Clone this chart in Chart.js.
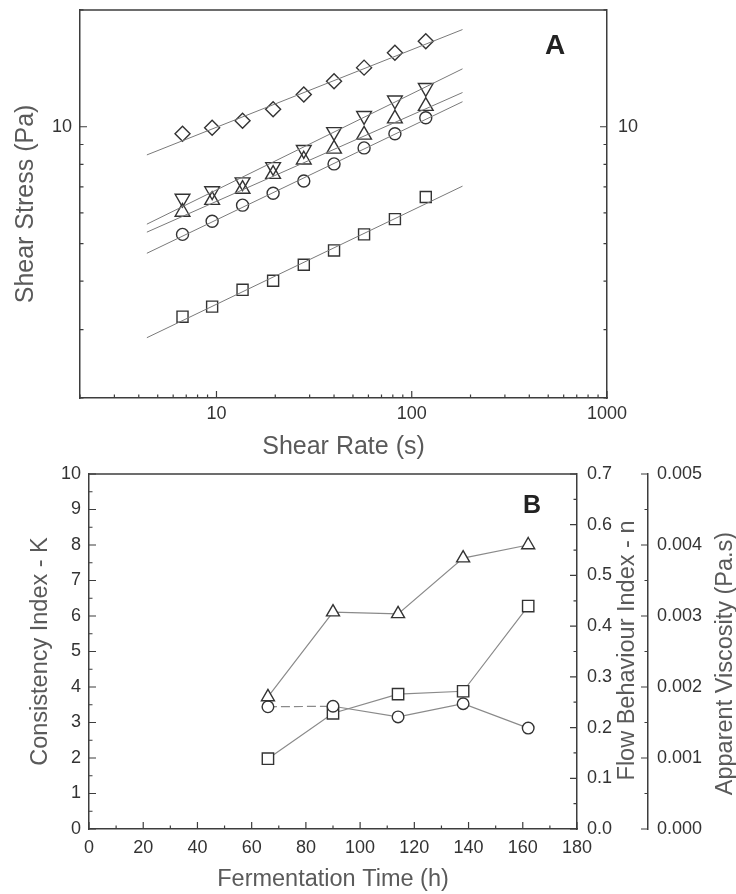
<!DOCTYPE html>
<html lang="en">
<head>
<meta charset="utf-8">
<title>Shear stress and flow parameters</title>
<script src="https://cdn.jsdelivr.net/npm/chart.js"></script>
<style>
  body { margin: 0; background: #fff; }
  #wrap { position: relative; width: 736px; height: 894px; }
  canvas { position: absolute; left: 0; }
  #flow { top: 0; }
  #ferm { top: 440px; }
</style>
</head>
<body>
<div id="wrap">
  <canvas id="flow" width="736" height="462"></canvas>
  <canvas id="ferm" width="736" height="454"></canvas>
</div>
<script>
// ---- A: shear stress vs shear rate (log-log) ----
const shearRate     = [6.7, 9.5, 13.6, 19.5, 28, 40, 57, 82, 118];
const stressDiamond = [9.59, 9.94, 10.36, 11.1, 12.1, 13.1, 14.2, 15.5, 16.6];
const stressDown    = [6.53, 6.83, 7.2, 7.88, 8.72, 9.7, 10.67, 11.7, 12.6];
const stressUp      = [6.03, 6.47, 6.91, 7.55, 8.22, 8.77, 9.53, 10.49, 11.3];
const stressCircle  = [5.28, 5.71, 6.28, 6.74, 7.25, 8.02, 8.82, 9.59, 10.55];
const stressSquare  = [3.24, 3.44, 3.80, 4.01, 4.41, 4.80, 5.28, 5.78, 6.59];

// power law fits, end points of each line
const fitRate    = [4.4, 182];
const fitDiamond = [8.46, 17.8];
const fitDown    = [5.61, 14.1];
const fitUp      = [5.35, 12.25];
const fitCircle  = [4.72, 11.6];
const fitSquare  = [2.86, 7.03];

const rateTicks = [2, 3, 4, 5, 6, 7, 8, 9, 10, 20, 30, 40, 50, 60, 70, 80, 90,
                   100, 200, 300, 400, 500, 600, 700, 800, 900, 1000];
const rateLabels = [10, 100, 1000];
const stressTicks = [2, 3, 4, 5, 6, 7, 8, 9, 10, 20];
const stressLabels = [10];

// ---- B: flow parameters vs fermentation time ----
const fermTime     = [66, 90, 114, 138, 162];
const consistencyK = [3.72, 6.11, 6.06, 7.63, 8.0];
const flowIndexN   = [0.241, 0.242, 0.221, 0.247, 0.199];
const viscosity    = [0.00099, 0.00163, 0.0019, 0.00194, 0.00314];

const ink = '#333';
const frame = '#3d3d3d';
const titleGrey = '#5a5a5a';
Chart.defaults.font.family = "'Liberation Sans', Arial, sans-serif";
Chart.defaults.color = ink;

function pts(xs, ys) { return xs.map((x, i) => ({ x: x, y: ys[i] })); }

// frame top, inward tick marks, panel letter, right-hand titles
function makeDecor(cfg) {
  return {
    id: 'decor',
    afterDraw(chart) {
      const ctx = chart.ctx, a = chart.chartArea;
      ctx.save();
      ctx.strokeStyle = frame;
      ctx.lineWidth = 1.5;
      ctx.beginPath();
      ctx.moveTo(a.left, a.top);
      ctx.lineTo(a.right, a.top);
      ctx.stroke();

      ctx.lineWidth = 1.2;
      ctx.beginPath();
      cfg.tickScales.forEach(id => {
        const s = chart.scales[id];
        const marks = [];
        s.ticks.forEach((t, i) => {
          if (s.type === 'logarithmic') {
            marks.push([t.value, t.label !== '']);
          } else {
            marks.push([t.value, true]);
            if (i < s.ticks.length - 1) marks.push([(t.value + s.ticks[i + 1].value) / 2, false]);
          }
        });
        marks.forEach(([v, major]) => {
          const len = major ? 7 : 3.5;
          const p = s.getPixelForValue(v);
          if (s.isHorizontal()) {
            ctx.moveTo(p, s.top);
            ctx.lineTo(p, s.top - len);
          } else {
            const x0 = s.position === 'left' ? s.right : s.left;
            const dir = s.position === 'left' ? 1 : -1;
            ctx.moveTo(x0, p);
            ctx.lineTo(x0 + dir * len, p);
          }
        });
      });
      ctx.stroke();

      ctx.fillStyle = '#222';
      ctx.textAlign = 'center';
      ctx.textBaseline = 'middle';
      ctx.font = "bold " + cfg.letter.size + "px 'Liberation Sans', Arial, sans-serif";
      ctx.fillText(cfg.letter.text, a.right - cfg.letter.dx, a.top + cfg.letter.dy);

      ctx.fillStyle = titleGrey;
      ctx.font = "23.5px 'Liberation Sans', Arial, sans-serif";
      (cfg.sideTitles || []).forEach(t => {
        const s = chart.scales[t.scale];
        ctx.save();
        ctx.translate(s.right - t.inset, (s.top + s.bottom) / 2 + t.shift);
        ctx.rotate(-Math.PI / 2);
        ctx.fillText(t.text, 0, 0);
        ctx.restore();
      });
      ctx.restore();
    }
  };
}

function markerSet(ys, style, radius, rotation) {
  return {
    data: pts(shearRate, ys),
    showLine: false,
    pointStyle: style,
    pointRadius: radius,
    pointRotation: rotation || 0,
    borderColor: ink,
    pointBorderWidth: 1.4,
    backgroundColor: 'rgba(0,0,0,0)'
  };
}
function fitSet(ys) {
  return {
    data: pts(fitRate, ys),
    showLine: true,
    pointRadius: 0,
    borderColor: '#7a7a7a',
    borderWidth: 1
  };
}

const tickFont = { size: 18 };
const noGrid = { display: false, drawTicks: false };
const border = { color: frame, width: 1.5 };

function logAxis(tickList, labelList, extra) {
  return Object.assign({
    type: 'logarithmic',
    grid: noGrid,
    border: border,
    afterBuildTicks: s => { s.ticks = tickList.map(v => ({ value: v })); },
    ticks: {
      autoSkip: false, maxRotation: 0, font: tickFont, color: ink,
      callback: v => labelList.includes(v) ? String(v) : ''
    }
  }, extra);
}

new Chart(document.getElementById('flow'), {
  type: 'scatter',
  data: {
    datasets: [
      fitSet(fitDiamond), fitSet(fitDown), fitSet(fitUp), fitSet(fitCircle), fitSet(fitSquare),
      markerSet(stressDiamond, 'rectRot', 7.5),
      markerSet(stressDown, 'triangle', 8.5, 180),
      markerSet(stressUp, 'triangle', 8.5),
      markerSet(stressCircle, 'circle', 6),
      markerSet(stressSquare, 'rect', 7.8)
    ]
  },
  options: {
    responsive: false,
    animation: false,
    layout: { padding: { top: 9, left: 0, right: 0, bottom: 0 } },
    plugins: { legend: { display: false }, tooltip: { enabled: false } },
    scales: {
      x: logAxis(rateTicks, rateLabels, {
        min: 2, max: 1000,
        title: { display: true, text: 'Shear Rate (s)', color: titleGrey, font: { size: 25 }, padding: { top: 0, bottom: 0 } },
        afterFit: s => { s.height = 64; s.paddingLeft = 0; s.paddingRight = 0; }
      }),
      y: logAxis(stressTicks, stressLabels, {
        min: 2, max: 20, position: 'left',
        title: { display: true, text: 'Shear Stress (Pa)', color: titleGrey, font: { size: 25 }, padding: { top: 11, bottom: 0 } },
        afterFit: s => { s.width = 80; s.paddingTop = 0; s.paddingBottom = 0; }
      }),
      y2: logAxis(stressTicks, stressLabels, {
        min: 2, max: 20, position: 'right', display: true,
        afterFit: s => { s.width = 129; s.paddingTop = 0; s.paddingBottom = 0; }
      })
    }
  },
  plugins: [makeDecor({
    tickScales: ['x', 'y', 'y2'],
    letter: { text: 'A', size: 28, dx: 52, dy: 36 }
  })]
});
// tick label gaps
Chart.getChart('flow').options.scales.x.ticks.padding = 5;
Chart.getChart('flow').options.scales.y.ticks.padding = 8;
Chart.getChart('flow').options.scales.y2.ticks.padding = 11;
Chart.getChart('flow').update();

function paramSet(ys, axis, style, radius) {
  return {
    data: pts(fermTime, ys),
    yAxisID: axis,
    showLine: true,
    borderColor: '#8a8a8a',
    borderWidth: 1.2,
    pointStyle: style,
    pointRadius: radius,
    pointBorderColor: ink,
    pointBorderWidth: 1.4,
    pointBackgroundColor: '#fff'
  };
}

const circles = paramSet(flowIndexN, 'yN', 'circle', 5.8);
circles.segment = { borderDash: c => c.p0DataIndex === 0 ? [9, 4] : undefined };

new Chart(document.getElementById('ferm'), {
  type: 'scatter',
  data: {
    datasets: [
      paramSet(consistencyK, 'yK', 'triangle', 7.5),
      circles,
      paramSet(viscosity, 'yV', 'rect', 8)
    ]
  },
  options: {
    responsive: false,
    animation: false,
    layout: { padding: { top: 34, left: 0, right: 0, bottom: 0 } },
    plugins: { legend: { display: false }, tooltip: { enabled: false } },
    scales: {
      x: {
        type: 'linear', min: 0, max: 180,
        grid: noGrid, border: border,
        ticks: { stepSize: 20, padding: 8, font: tickFont, color: ink, maxRotation: 0 },
        title: { display: true, text: 'Fermentation Time (h)', color: titleGrey, font: { size: 23.5 }, padding: { top: 0, bottom: 0 } },
        afterFit: s => { s.height = 65; s.paddingLeft = 0; s.paddingRight = 0; }
      },
      yK: {
        type: 'linear', position: 'left', min: 0, max: 10,
        grid: noGrid, border: border,
        ticks: { stepSize: 1, padding: 8, font: tickFont, color: ink },
        title: { display: true, text: 'Consistency Index - K', color: titleGrey, font: { size: 23.5 }, padding: { top: 26, bottom: 0 } },
        afterFit: s => { s.width = 89; s.paddingTop = 0; s.paddingBottom = 0; }
      },
      yN: {
        type: 'linear', position: 'right', min: 0, max: 0.7, weight: 0,
        grid: noGrid, border: border,
        ticks: { stepSize: 0.1, padding: 10, font: tickFont, color: ink, callback: v => v.toFixed(1) },
        afterFit: s => { s.width = 71; s.paddingTop = 0; s.paddingBottom = 0; }
      },
      yV: {
        type: 'linear', position: 'right', min: 0, max: 0.005, weight: 1,
        grid: noGrid, border: border,
        ticks: { stepSize: 0.001, padding: 9, font: tickFont, color: ink, callback: v => v.toFixed(3) },
        afterFit: s => { s.width = 88; s.paddingTop = 0; s.paddingBottom = 0; }
      }
    }
  },
  plugins: [makeDecor({
    tickScales: ['x', 'yK', 'yN', 'yV'],
    letter: { text: 'B', size: 25, dx: 45, dy: 32 },
    sideTitles: [
      { scale: 'yN', text: 'Flow Behaviour Index - n', inset: 20, shift: -1 },
      { scale: 'yV', text: 'Apparent Viscosity (Pa.s)', inset: 10, shift: 12 }
    ]
  })]
});
</script>
</body>
</html>
